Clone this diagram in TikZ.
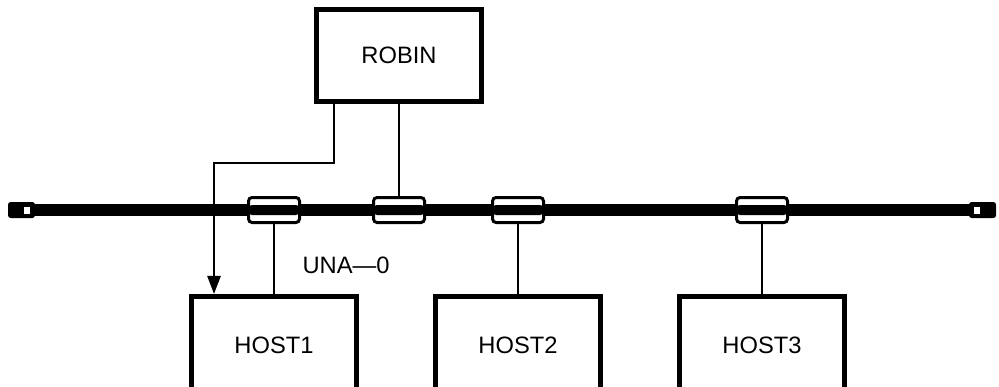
\documentclass[tikz,border=0pt]{standalone}
\usepackage{fontspec}
\setmainfont{Liberation Sans}
\usetikzlibrary{positioning, arrows.meta}

\tikzset{
  box/.style={draw, line width=0.1cm, minimum width=3.3cm, minimum height=1.84cm},
  hostbox/.style={box, minimum height=1.96cm},
  tap/.style={draw, line width=0.06cm, fill=white, rounded corners=2pt,
    minimum width=1.02cm, minimum height=0.5cm, inner sep=0pt,
    path picture={\fill[black] ([yshift=0.1cm]path picture bounding box.west)
      rectangle ([yshift=-0.1cm]path picture bounding box.east);}},
  term/.style={fill=black, rounded corners=1.5pt, minimum width=0.54cm,
    minimum height=0.32cm, inner sep=0pt},
  conn/.style={line width=0.05cm},
  bus/.style={line width=0.24cm}
}

\begin{document}
\begin{tikzpicture}[x=0.02cm, y=-0.02cm, font=\fontsize{13.5}{16}\selectfont]
\clip (0,0) rectangle (999,386);

% cable ends
\node[term] (termL) at (21.5,210) {};
\node[term] (termR) at (982.5,210) {};
\fill[white] ([xshift=0.11cm]termL.center) ++(-3,-3.5) rectangle ++(6,7);
\fill[white] ([xshift=-0.11cm]termR.center) ++(-3,-3.5) rectangle ++(6,7);

% the cable
\draw[bus] (termL.east) -- (termR.west);

% taps
\node[tap] (tap1) at (274,210) {};
\node[tap] (tap2) at (399,210) {};
\node[tap] (tap3) at (518,210) {};
\node[tap] (tap4) at (762,210) {};

\node[box] (robin) [above=1.84cm of tap2] {ROBIN};
\node[hostbox] (host1) [below=1.4cm of tap1] {HOST1};
\node[hostbox] (host2) [below=1.4cm of tap3] {HOST2};
\node[hostbox] (host3) [below=1.4cm of tap4] {HOST3};

\node (una) at (346,265) {UNA---0};

\draw[conn] (robin) -- (tap2);
\draw[conn] (tap1) -- (host1);
\draw[conn] (tap3) -- (host2);
\draw[conn] (tap4) -- (host3);
\draw[conn, -{Triangle[length=0.36cm, width=0.26cm]}]
  ([xshift=-1.3cm]robin.south) -- ++(0,59) -| ([xshift=-1.2cm]host1.north);

\end{tikzpicture}
\end{document}
